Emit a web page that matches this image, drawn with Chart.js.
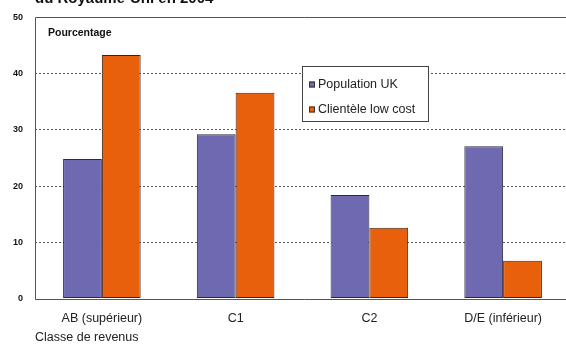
<!DOCTYPE html>
<html>
<head>
<meta charset="utf-8">
<script src="https://cdn.jsdelivr.net/npm/chart.js@4"></script>
<style>
html,body{margin:0;padding:0;background:#fff;overflow:hidden;width:566px;height:345px;}
#wrap{position:absolute;left:0;top:0;width:572px;height:345px;}
</style>
</head>
<body>
<div id="wrap"><canvas id="c" width="572" height="345"></canvas></div>
<script>
const categories = ["AB (supérieur)", "C1", "C2", "D/E (inférieur)"];
const populationUK = [24.8, 29.2, 18.4, 27.1];
const clienteleLowCost = [43.3, 36.6, 12.6, 6.7];
const seriesLabels = ["Population UK", "Clientèle low cost"];
const yTicks = [0, 10, 20, 30, 40, 50];
const titleText = "du Royaume-Uni en 2004";
const yAxisLabel = "Pourcentage";
const xAxisLabel = "Classe de revenus";

const PURPLE = "#6e69b0";
const ORANGE = "#e8600c";
const FONT = "'Liberation Sans', Arial, sans-serif";

const framePlugin = {
  id: "frame",
  beforeDatasetsDraw(chart) {
    const {ctx, chartArea: a} = chart;
    ctx.save();
    ctx.strokeStyle = "#555";
    ctx.lineWidth = 1;
    ctx.beginPath();
    ctx.moveTo(a.right + 5, Math.round(a.top) + 0.5);
    ctx.lineTo(Math.round(a.left) + 0.5, Math.round(a.top) + 0.5);
    ctx.lineTo(Math.round(a.left) + 0.5, Math.round(a.bottom) + 0.5);
    ctx.lineTo(a.right + 5, Math.round(a.bottom) + 0.5);
    ctx.stroke();
    ctx.restore();
  },
  afterDraw(chart) {
    const {ctx, chartArea: a} = chart;
    ctx.save();
    ctx.fillStyle = "#111";
    ctx.font = "bold 15px " + FONT;
    ctx.textBaseline = "alphabetic";
    ctx.textAlign = "left";
    ctx.fillText(titleText, 35, 3);
    ctx.font = "bold 10.5px " + FONT;
    ctx.textBaseline = "middle";
    ctx.fillText(yAxisLabel, a.left + 13, a.top + 15.5);
    const lx = 302, ly = 66, lw = 126, lh = 55;
    ctx.fillStyle = "#fff";
    ctx.fillRect(lx, ly, lw, lh);
    ctx.strokeStyle = "#444";
    ctx.lineWidth = 1;
    ctx.strokeRect(lx + 0.5, ly + 0.5, lw, lh);
    const cols = [PURPLE, ORANGE];
    ctx.font = "12.5px " + FONT;
    ctx.textBaseline = "middle";
    chart.data.datasets.forEach((ds, i) => {
      const yy = ly + 18.5 + i * 25;
      ctx.fillStyle = cols[i];
      ctx.fillRect(lx + 7, yy - 3, 6, 6);
      ctx.strokeStyle = "#333";
      ctx.strokeRect(lx + 7.5, yy - 2.5, 5, 5);
      ctx.fillStyle = "#222";
      ctx.fillText(ds.label, lx + 16, yy);
    });
    ctx.restore();
  }
};

new Chart(document.getElementById("c"), {
  type: "bar",
  data: {
    labels: categories,
    datasets: [
      {label: seriesLabels[0], data: populationUK, backgroundColor: PURPLE, borderColor: "#2e2838", borderWidth: 1, borderSkipped: false},
      {label: seriesLabels[1], data: clienteleLowCost, backgroundColor: ORANGE, borderColor: "#3e2418", borderWidth: 1, borderSkipped: false}
    ]
  },
  options: {
    responsive: false,
    animation: false,
    devicePixelRatio: 1,
    layout: {padding: {top: 17, right: 2, left: 0, bottom: 0}},
    plugins: {legend: {display: false}, tooltip: {enabled: false}, title: {display: false}},
    datasets: {bar: {categoryPercentage: 0.58, barPercentage: 1.0}},
    scales: {
      x: {
        grid: {display: false},
        border: {display: false},
        ticks: {color: "#222", font: {family: FONT, size: 12.5}, padding: 5, maxRotation: 0},
        title: {display: true, text: xAxisLabel, align: "start", color: "#222", font: {family: FONT, size: 12.5}, padding: {top: 0, bottom: 0}},
        afterFit(s) { s.height = 46.5; }
      },
      y: {
        min: 0, max: 50,
        afterBuildTicks(s) { s.ticks = yTicks.map(v => ({value: v})); },
        grid: {
          drawTicks: false,
          color: ctx => (ctx.tick && (ctx.tick.value === 0 || ctx.tick.value === 50)) ? "rgba(0,0,0,0)" : "#555",
          lineWidth: 1
        },
        border: {display: false, dash: [2, 2]},
        ticks: {color: "#111", font: {family: FONT, size: 9, weight: "bold"}, padding: 12},
        afterFit(s) { s.width = 35; }
      }
    }
  },
  plugins: [framePlugin]
});
</script>
</body>
</html>
